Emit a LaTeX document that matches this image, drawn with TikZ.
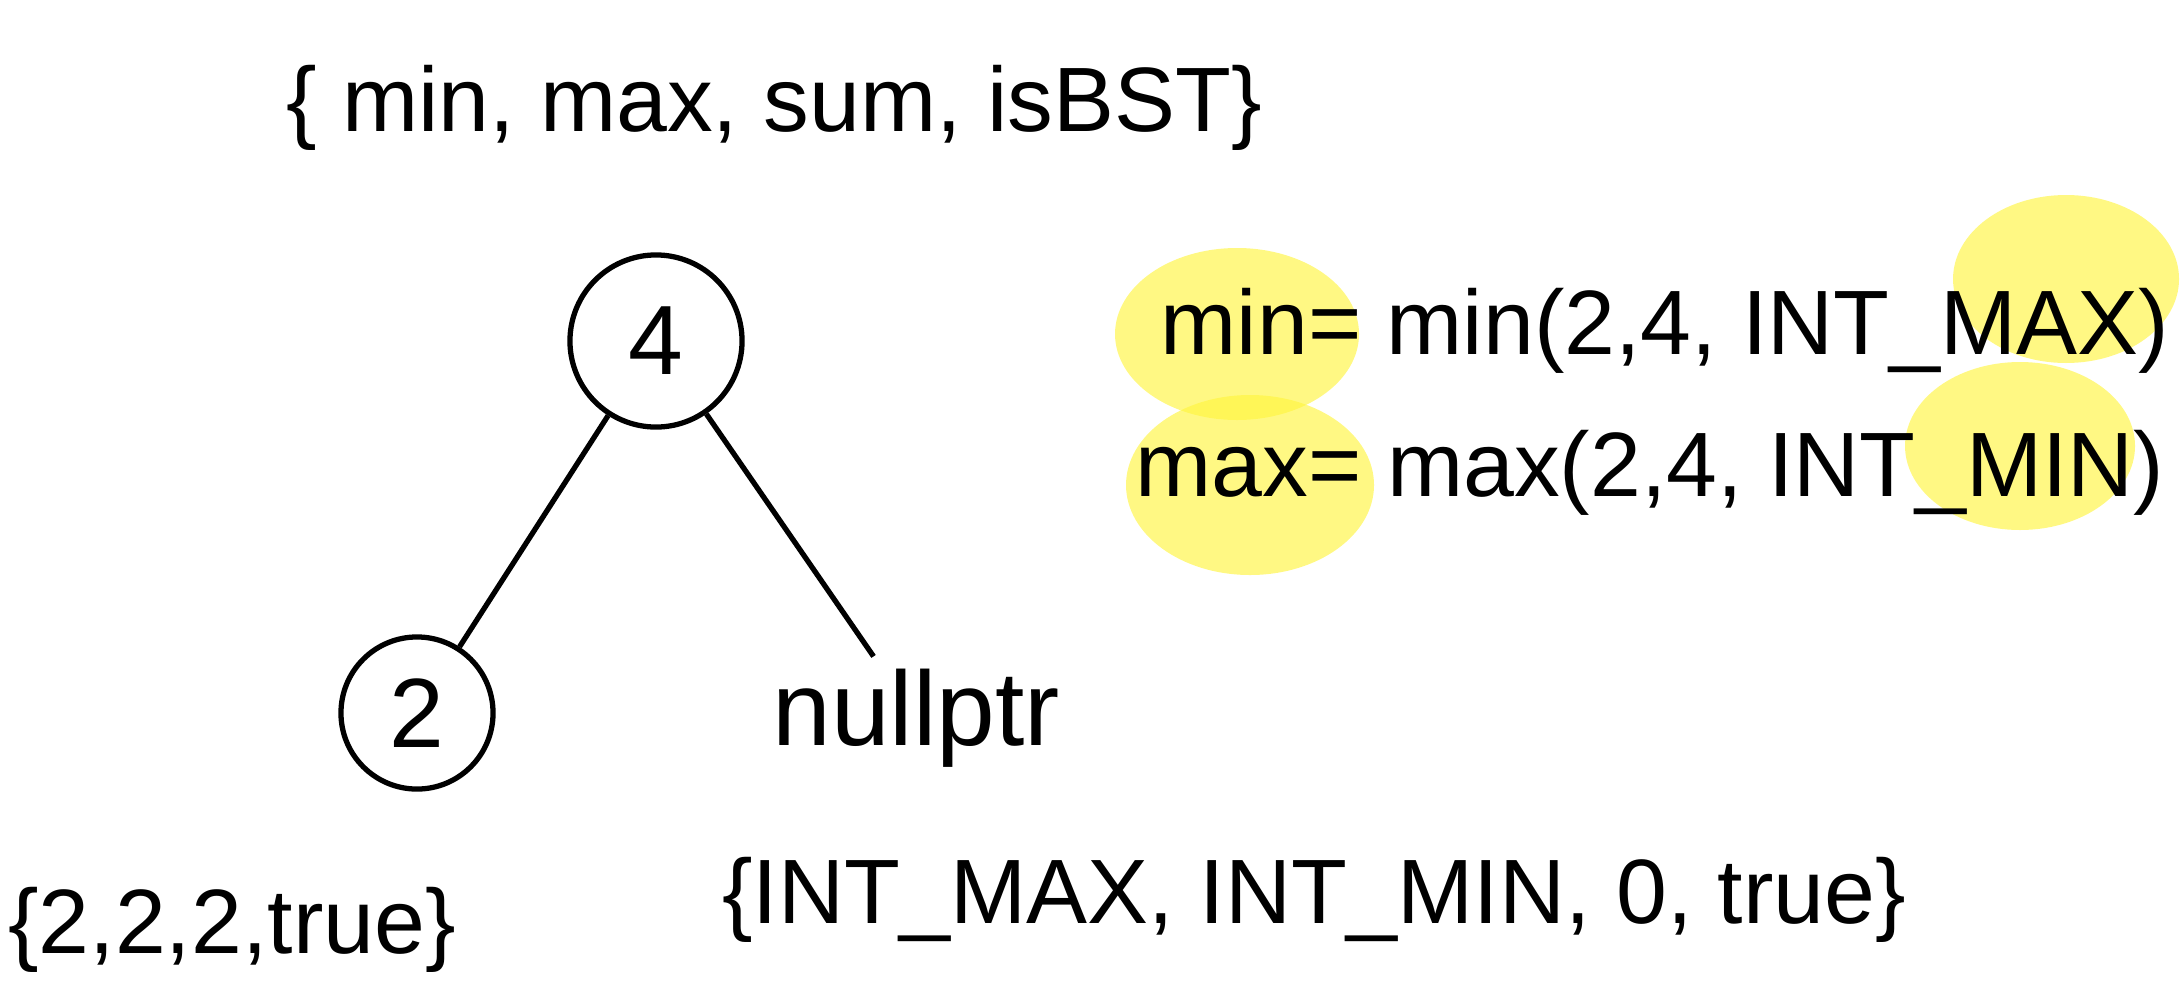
\documentclass[tikz,border=0pt]{standalone}
\usepackage{fontspec}
\setmainfont{Liberation Sans}
\begin{document}
\begin{tikzpicture}[x=0.01cm,y=-0.01cm,
    hand/.style={font=\fontsize{26}{30}\selectfont},
    vertex/.style={draw,circle,line width=1.5pt,inner sep=0pt,font=\fontsize{28}{32}\selectfont},
    glow/.style={fill=yellow!75,opacity=0.65}]
  \useasboundingbox (0,0) rectangle (2180,1000);
  % highlights
  \fill[glow] (1237,334) ellipse [x radius=122, y radius=86];
  \fill[glow] (1250,485) ellipse [x radius=124, y radius=90];
  \fill[glow] (2066,279) ellipse [x radius=113, y radius=84];
  \fill[glow] (2020,446) ellipse [x radius=115, y radius=84];
  \path
    (774,108) node[hand] (info) {\{ min, max, sum, isBST\}}
    (656,341) node[vertex,minimum size=1.72cm] (4) {4}
    (417,713) node[vertex,minimum size=1.52cm] (2) {2}
    (916,718) node[hand,font=\fontsize{30}{34}\selectfont] (null) {nullptr}
    (232,930) node[hand] (leaf) {\{2,2,2,true\}}
    (1314,900) node[hand] (empty) {\{INT\_MAX, INT\_MIN, 0, true\}}
    (1665,331) node[hand] (minrule) {min= min(2,4, INT\_MAX)}
    (1650,473) node[hand] (maxrule) {max= max(2,4, INT\_MIN)};
  \begin{scope}[line width=1.5pt]
    \draw (4) to (2);
    \draw (4) to (null);
  \end{scope}
\end{tikzpicture}
\end{document}
